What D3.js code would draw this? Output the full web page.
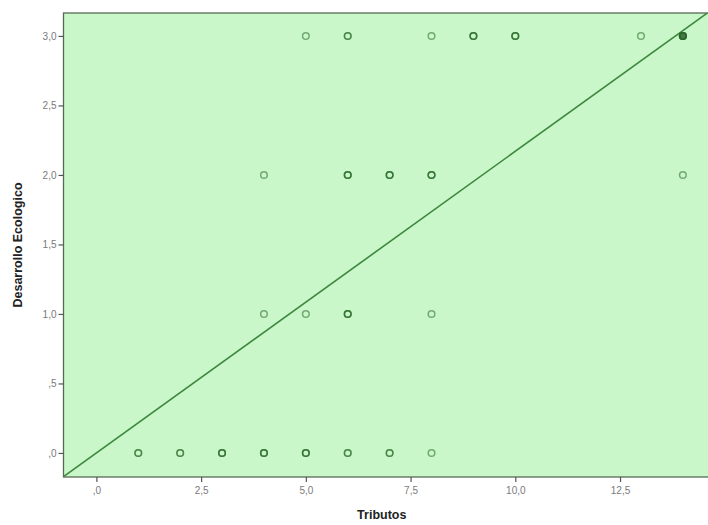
<!DOCTYPE html>
<html>
<head>
<meta charset="utf-8">
<script src="https://cdn.jsdelivr.net/npm/d3@7"></script>
<style>
  html, body { margin: 0; padding: 0; background: #ffffff; }
  svg { display: block; }
</style>
</head>
<body>
<svg id="chart" width="708" height="525"></svg>
<script>
// ---- data ----
const xValues  = [5, 6, 8, 9, 10, 13, 14,   4, 6, 7, 8, 14,   4, 5, 6, 8,   1, 2, 3, 4, 5, 6, 7, 8];
const yValues  = [3, 3, 3, 3, 3, 3, 3,      2, 2, 2, 2, 2,    1, 1, 1, 1,   0, 0, 0, 0, 0, 0, 0, 0];
const counts   = [1, 2, 1, 3, 3, 1, 6,      1, 3, 3, 3, 1,    1, 1, 3, 1,   2, 2, 3, 3, 3, 2, 2, 1];
const xTicks = [0, 2.5, 5, 7.5, 10, 12.5];
const xTickLabels = [",0", "2,5", "5,0", "7,5", "10,0", "12,5"];
const yTicks = [0, 0.5, 1, 1.5, 2, 2.5, 3];
const yTickLabels = [",0", ",5", "1,0", "1,5", "2,0", "2,5", "3,0"];
const fitIntercept = 0.0;
const fitSlope = 0.217;
const xTitle = "Tributos";
const yTitle = "Desarrollo Ecologico";

// ---- layout ----
const svg = d3.select("#chart");
const pLeft = 63.5, pRight = 708, pTop = 13, pBottom = 477;
const x = d3.scaleLinear().domain([-0.785, 14.6]).range([pLeft, pRight]);
const y = d3.scaleLinear().domain([-0.173, 3.165]).range([pBottom, pTop]);

// plot background
svg.append("rect")
  .attr("x", pLeft).attr("y", pTop)
  .attr("width", pRight - pLeft + 2).attr("height", pBottom - pTop)
  .attr("fill", "#c9f7c9")
  .attr("stroke", "#566b56").attr("stroke-width", 1.3);

// clip
svg.append("clipPath").attr("id", "clip")
  .append("rect").attr("x", pLeft).attr("y", pTop)
  .attr("width", pRight - pLeft).attr("height", pBottom - pTop);

// axes
const xAxis = d3.axisBottom(x).tickValues(xTicks)
  .tickFormat((d, i) => xTickLabels[i]).tickSize(5).tickSizeOuter(0);
const gx = svg.append("g").attr("transform", `translate(0,${pBottom})`).call(xAxis);
gx.select(".domain").remove();
gx.selectAll(".tick line").attr("stroke", "#555").attr("stroke-width", 1.2);
gx.selectAll(".tick text").attr("fill", "#7a7a7a")
  .attr("font-family", "Arial, 'Liberation Sans', sans-serif").attr("font-size", 10).attr("dy", "0.9em");

const yAxis = d3.axisLeft(y).tickValues(yTicks)
  .tickFormat((d, i) => yTickLabels[i]).tickSize(5).tickSizeOuter(0);
const gy = svg.append("g").attr("transform", `translate(${pLeft},0)`).call(yAxis);
gy.select(".domain").remove();
gy.selectAll(".tick line").attr("stroke", "#555").attr("stroke-width", 1.2);
gy.selectAll(".tick text").attr("fill", "#7a7a7a")
  .attr("font-family", "Arial, 'Liberation Sans', sans-serif").attr("font-size", 10).attr("x", -7);

// fit line
const plot = svg.append("g").attr("clip-path", "url(#clip)");
const xd = x.domain();
const lineData = [xd[0], xd[1]].map(v => [v, fitIntercept + fitSlope * v]);
plot.append("path")
  .datum(lineData)
  .attr("d", d3.line().x(d => x(d[0])).y(d => y(d[1])))
  .attr("fill", "none").attr("stroke", "#3d873d").attr("stroke-width", 1.6);

// points (drawn once per observation so overlaps darken)
const pts = [];
xValues.forEach((xv, i) => {
  for (let k = 0; k < counts[i]; k++) pts.push({ x: xv, y: yValues[i], c: counts[i] });
});
plot.selectAll("circle.pt").data(pts).enter().append("circle")
  .attr("class", "pt")
  .attr("cx", d => x(d.x)).attr("cy", d => y(d.y)).attr("r", 3.3)
  .attr("fill", d => d.c >= 5 ? "#2f5a2f" : "none")
  .attr("fill-opacity", 0.25)
  .attr("stroke", "#2a6a2a").attr("stroke-opacity", 0.55).attr("stroke-width", 1.5);

// titles
svg.append("text").attr("x", (pLeft + 700) / 2).attr("y", 519)
  .attr("text-anchor", "middle")
  .attr("font-family", "Arial, 'Liberation Sans', sans-serif").attr("font-size", 12.5)
  .attr("font-weight", "bold").attr("fill", "#222").text(xTitle);
svg.append("text").attr("transform", `translate(22,${(pTop + pBottom) / 2}) rotate(-90)`)
  .attr("text-anchor", "middle")
  .attr("font-family", "Arial, 'Liberation Sans', sans-serif").attr("font-size", 12.5)
  .attr("font-weight", "bold").attr("fill", "#222").text(yTitle);
</script>
</body>
</html>
